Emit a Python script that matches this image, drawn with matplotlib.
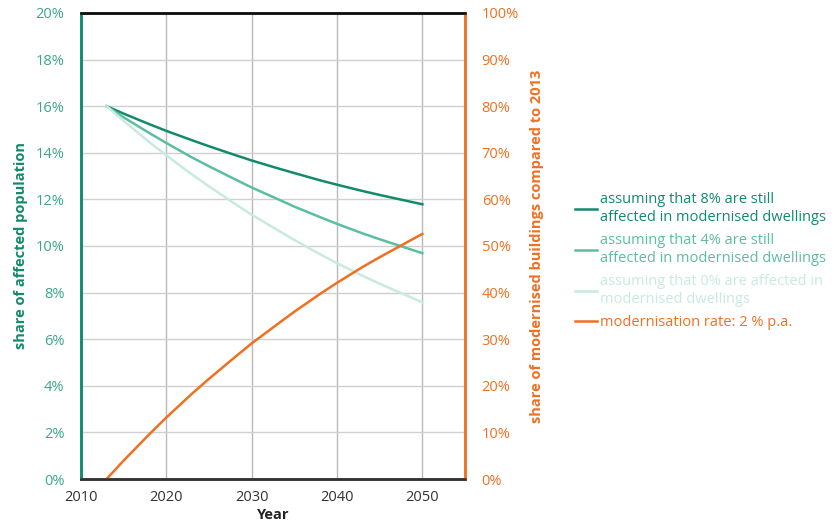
import matplotlib
matplotlib.use("Agg")
import matplotlib.pyplot as plt
from matplotlib.ticker import FuncFormatter

plt.rcParams['font.family'] = ['Open Sans', 'DejaVu Sans']

years = [2013, 2015, 2018, 2020, 2023, 2025, 2028, 2030, 2033, 2035, 2038, 2040, 2043, 2045, 2048, 2050]
share_8 = [16.0, 15.68, 15.23, 14.94, 14.54, 14.28, 13.91, 13.67, 13.34, 13.13, 12.82, 12.63, 12.36, 12.19, 11.95, 11.79]
share_4 = [16.0, 15.52, 14.85, 14.42, 13.80, 13.42, 12.87, 12.51, 12.02, 11.69, 11.24, 10.95, 10.54, 10.29, 9.93, 9.69]
share_0 = [16.0, 15.37, 14.46, 13.89, 13.07, 12.56, 11.82, 11.34, 10.69, 10.26, 9.65, 9.26, 8.72, 8.38, 7.90, 7.58]
modern = [0.0, 3.96, 9.6, 13.2, 18.3, 21.5, 26.1, 29.1, 33.2, 35.9, 39.7, 42.1, 45.5, 47.6, 50.6, 52.6]

labels = ["assuming that 8% are still\naffected in modernised dwellings",
          "assuming that 4% are still\naffected in modernised dwellings",
          "assuming that 0% are affected in\nmodernised dwellings",
          "modernisation rate: 2 % p.a."]

c_dark = "#128a6c"
c_mid = "#5cbea0"
c_light = "#c8eae0"
c_orange = "#f07022"
c_lefttick = "#3aa888"

fig = plt.figure(figsize=(8.34, 5.28), dpi=100)
ax = fig.add_axes([0.0971, 0.0928, 0.4605, 0.8826])
ax2 = ax.twinx()

l1, = ax.plot(years, share_8, color=c_dark, lw=1.8)
l2, = ax.plot(years, share_4, color=c_mid, lw=1.8)
l3, = ax.plot(years, share_0, color=c_light, lw=1.8)
l4, = ax2.plot(years, modern, color=c_orange, lw=1.8)

ax.set_xlim(2010, 2055)
ax.set_ylim(0, 20)
ax2.set_ylim(0, 100)
ax.set_xticks([2010, 2020, 2030, 2040, 2050])
ax.set_yticks(range(0, 21, 2))
ax2.set_yticks(range(0, 101, 10))
ax.yaxis.set_major_formatter(FuncFormatter(lambda v, p: f"{int(v)}%"))
ax2.yaxis.set_major_formatter(FuncFormatter(lambda v, p: f"{int(v)}%"))

ax.grid(True, axis='y', color='#d0d0d0', lw=1.0)
ax.grid(True, axis='x', color='#b8b8b8', lw=1.0)
ax.set_axisbelow(True)

ax.tick_params(axis='y', length=0, pad=12, labelsize=10.5, labelcolor=c_lefttick)
ax.tick_params(axis='x', length=0, pad=8, labelsize=10.5, labelcolor='#333333')
ax2.tick_params(axis='y', length=0, pad=12, labelsize=10.5, labelcolor=c_orange)

for a in (ax, ax2):
    a.spines['left'].set_color(c_dark)
    a.spines['left'].set_linewidth(1.8)
    a.spines['right'].set_color(c_orange)
    a.spines['right'].set_linewidth(1.8)
    a.spines['top'].set_color('#111111')
    a.spines['top'].set_linewidth(1.8)
    a.spines['bottom'].set_color('#333333')
    a.spines['bottom'].set_linewidth(1.8)

ax.set_xlabel("Year", fontsize=10.5, fontweight='bold', color='#222222', labelpad=2)
ax.set_ylabel("share of affected population", fontsize=10.5, fontweight='bold', color=c_dark, labelpad=5)
ax2.set_ylabel("share of modernised buildings compared to 2013", fontsize=10.5, fontweight='bold',
               color=c_orange, labelpad=8)

leg = ax.legend([l1, l2, l3, l4], labels, loc='center left', bbox_to_anchor=(0.689, 0.505),
                bbox_transform=fig.transFigure, frameon=False, fontsize=10.5,
                borderpad=0, borderaxespad=0,
                handlelength=1.55, handletextpad=0.2, labelspacing=0.6,
                labelcolor=[c_dark, c_mid, c_light, c_orange])

fig.savefig("out.png", dpi=100)
